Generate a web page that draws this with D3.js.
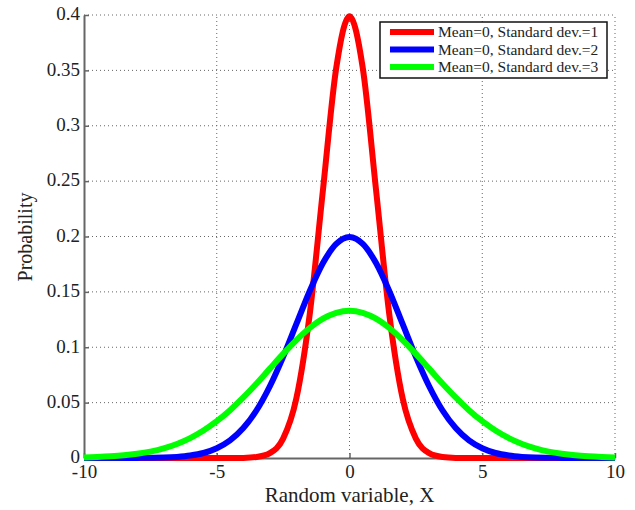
<!DOCTYPE html>
<html>
<head>
<meta charset="utf-8">
<script src="https://cdn.jsdelivr.net/npm/d3@7"></script>
<style>
  body { margin: 0; background: #fff; }
  svg { display: block; }
  text { font-family: "Liberation Serif", "Times New Roman", serif; fill: #222; }
</style>
</head>
<body>
<div id="chart"></div>
<script>
var width = 635
var height = 510
var margin = { top: 15, right: 20, bottom: 52, left: 84 }

// x positions, read every 0.5
var xValues = d3.range(-10, 10.001, 0.5)

// values, from x = -10 to x = 10
var sd1 = [0, 0, 0, 0, 0, 0, 0, 0, 0, 0, 0, 0, 0.0001, 0.0009, 0.0044, 0.0175, 0.0540, 0.1295, 0.2420, 0.3521,
  0.3989,
  0.3521, 0.2420, 0.1295, 0.0540, 0.0175, 0.0044, 0.0009, 0.0001, 0, 0, 0, 0, 0, 0, 0, 0, 0, 0, 0, 0]
var sd2 = [0, 0, 0, 0, 0.0001, 0.0002, 0.0004, 0.0010, 0.0022, 0.0045, 0.0088, 0.0159, 0.0270, 0.0431, 0.0648, 0.0913, 0.1210, 0.1506, 0.1760, 0.1933,
  0.1995,
  0.1933, 0.1760, 0.1506, 0.1210, 0.0913, 0.0648, 0.0431, 0.0270, 0.0159, 0.0088, 0.0045, 0.0022, 0.0010, 0.0004, 0.0002, 0.0001, 0, 0, 0, 0]
var sd3 = [0.0005, 0.0009, 0.0015, 0.0024, 0.0038, 0.0058, 0.0087, 0.0127, 0.0180, 0.0248, 0.0332, 0.0432, 0.0547, 0.0673, 0.0807, 0.0940, 0.1065, 0.1174, 0.1258, 0.1311,
  0.1330,
  0.1311, 0.1258, 0.1174, 0.1065, 0.0940, 0.0807, 0.0673, 0.0547, 0.0432, 0.0332, 0.0248, 0.0180, 0.0127, 0.0087, 0.0058, 0.0038, 0.0024, 0.0015, 0.0009, 0.0005]

var seriesNames = ["Mean=0, Standard dev.=1", "Mean=0, Standard dev.=2", "Mean=0, Standard dev.=3"]
var seriesColors = ["#ff0000", "#0000ff", "#00ff00"]
var seriesValues = [sd1, sd2, sd3]

var xTicks = [-10, -5, 0, 5, 10]
var yTicks = [0, 0.05, 0.1, 0.15, 0.2, 0.25, 0.3, 0.35, 0.4]

var x = d3.scaleLinear()
  .domain([-10, 10])
  .range([margin.left, width - margin.right])

var y = d3.scaleLinear()
  .domain([0, 0.4])
  .range([height - margin.bottom, margin.top])

var svg = d3.select("#chart").append("svg")
  .attr("width", width)
  .attr("height", height)

// grid
var grid = svg.append("g")
grid.selectAll(".vgrid")
  .data(xTicks.slice(1))
  .enter()
  .append("line")
  .attr("x1", function (d) { return x(d) })
  .attr("x2", function (d) { return x(d) })
  .attr("y1", y(0))
  .attr("y2", y(0.4))
  .attr("stroke", "#666")
  .attr("stroke-width", 1)
  .attr("stroke-dasharray", "1,3")
grid.selectAll(".hgrid")
  .data(yTicks.slice(1))
  .enter()
  .append("line")
  .attr("x1", x(-10))
  .attr("x2", x(10))
  .attr("y1", function (d) { return y(d) })
  .attr("y2", function (d) { return y(d) })
  .attr("stroke", "#666")
  .attr("stroke-width", 1)
  .attr("stroke-dasharray", "1,3")

// axes
var xAxis = svg.append("g")
  .attr("transform", "translate(0," + y(0) + ")")
  .call(d3.axisBottom(x).tickValues(xTicks).tickSizeInner(-5).tickSizeOuter(0).tickPadding(6)
    .tickFormat(function (d) { return String(d) }))
var yAxis = svg.append("g")
  .attr("transform", "translate(" + x(-10) + ",0)")
  .call(d3.axisLeft(y).tickValues(yTicks).tickSizeInner(-5).tickSizeOuter(0).tickPadding(4)
    .tickFormat(function (d) { return d === 0 ? "0" : String(+d.toFixed(2)) }))

svg.selectAll(".domain").attr("stroke", "#666").attr("stroke-width", 2)
svg.selectAll(".tick line").attr("stroke", "#666").attr("stroke-width", 1.5)
svg.selectAll(".tick text")
  .attr("fill", "#222")
  .style("font-family", "Liberation Serif, serif")
  .style("font-size", "19px")
xAxis.selectAll(".tick text").attr("dy", "0.75em")
yAxis.selectAll(".tick text").attr("dy", "0.25em")

// curves
var line = d3.line()
  .x(function (d, i) { return x(xValues[i]) })
  .y(function (d) { return y(d) })
  .curve(d3.curveMonotoneX)

svg.append("g").selectAll("path")
  .data(seriesValues)
  .enter()
  .append("path")
  .attr("d", function (d) { return line(d) })
  .attr("fill", "none")
  .attr("stroke", function (d, i) { return seriesColors[i] })
  .attr("stroke-width", 6)
  .attr("stroke-linejoin", "round")

// axis labels
svg.append("text")
  .attr("x", (x(-10) + x(10)) / 2)
  .attr("y", 502)
  .attr("text-anchor", "middle")
  .style("font-size", "21px")
  .text("Random variable, X")

svg.append("text")
  .attr("transform", "translate(32," + 237 + ") rotate(-90)")
  .attr("text-anchor", "middle")
  .style("font-size", "20px")
  .text("Probability")

// legend
var legend = svg.append("g")
legend.append("rect")
  .attr("x", 380)
  .attr("y", 22)
  .attr("width", 227)
  .attr("height", 56)
  .attr("fill", "#fff")
  .attr("stroke", "#111")
  .attr("stroke-width", 1.5)

var rows = legend.selectAll(".row")
  .data(seriesNames)
  .enter()
  .append("g")
  .attr("transform", function (d, i) { return "translate(0," + (32 + i * 17.5) + ")" })
rows.append("line")
  .attr("x1", 390)
  .attr("x2", 434)
  .attr("stroke", function (d, i) { return seriesColors[i] })
  .attr("stroke-width", 6)
rows.append("text")
  .attr("x", 438)
  .attr("dy", "0.35em")
  .style("font-size", "15.5px")
  .text(function (d) { return d })
</script>
</body>
</html>
